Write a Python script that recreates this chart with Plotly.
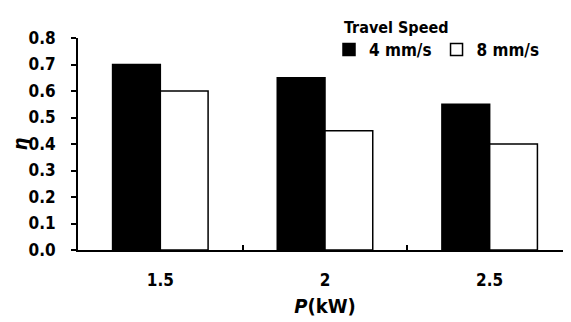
import plotly.graph_objects as go

categories = ["1.5", "2", "2.5"]
speed_4 = [0.70, 0.65, 0.55]
speed_8 = [0.60, 0.45, 0.40]
series_names = ["4 mm/s", "8 mm/s"]
legend_title = "Travel Speed"
y_ticks = [0.0, 0.1, 0.2, 0.3, 0.4, 0.5, 0.6, 0.7, 0.8]

FONT = "DejaVu Sans Condensed"
W, H = 571, 322
L, R, T, B = 70, 7, 30, 80
PW, PH = W - L - R, H - T - B

fig = go.Figure()
fig.add_trace(go.Bar(x=categories, y=speed_4, name=f"<b>{series_names[0]}</b>",
                     marker=dict(color="black", line=dict(color="black", width=1.5))))
fig.add_trace(go.Bar(x=categories, y=speed_8, name=f"<b>{series_names[1]}</b>",
                     marker=dict(color="white", line=dict(color="black", width=1.5))))

fig.add_annotation(text=f"<b>{legend_title}</b>", xref="paper", yref="paper",
                   x=(334 - L) / PW, y=1 + (T - 20) / PH, xanchor="left", yanchor="middle",
                   showarrow=False, font=dict(size=16, family=FONT))

fig.update_layout(
    width=W, height=H,
    margin=dict(l=L, r=R, t=T, b=B, autoexpand=False),
    plot_bgcolor="white", paper_bgcolor="white",
    barmode="group", bargap=0.42, bargroupgap=0,
    font=dict(family=FONT, size=17, color="black"),
    showlegend=True,
    legend=dict(
        orientation="h", xref="container", yref="container",
        x=321 / W, y=1 - 42 / H, xanchor="left", yanchor="middle",
        font=dict(size=17), bgcolor="rgba(0,0,0,0)",
        itemwidth=30, traceorder="normal",
    ),
    xaxis=dict(
        type="category", showline=True, linecolor="black", linewidth=2,
        ticks="inside", tickson="boundaries", ticklen=5, tickwidth=1.5, tickcolor="black",
        ticktext=[f"<b>{c}</b>" for c in categories], tickvals=categories,
        ticklabelstandoff=14,
        title=dict(text="<b><i>P</i>(kW)</b>", standoff=10),
        showgrid=False, zeroline=False,
    ),
    yaxis=dict(
        range=[0, 0.8], tickvals=y_ticks,
        ticktext=[f"<b>{v:.1f}</b>" for v in y_ticks],
        showline=True, linecolor="black", linewidth=2,
        ticks="outside", ticklen=5, tickwidth=1.5, tickcolor="black",
        ticklabelstandoff=12,
        title=dict(text="<b><i>η</i></b>", standoff=13),
        showgrid=False, zeroline=False,
    ),
)

fig.write_html("out.html")
